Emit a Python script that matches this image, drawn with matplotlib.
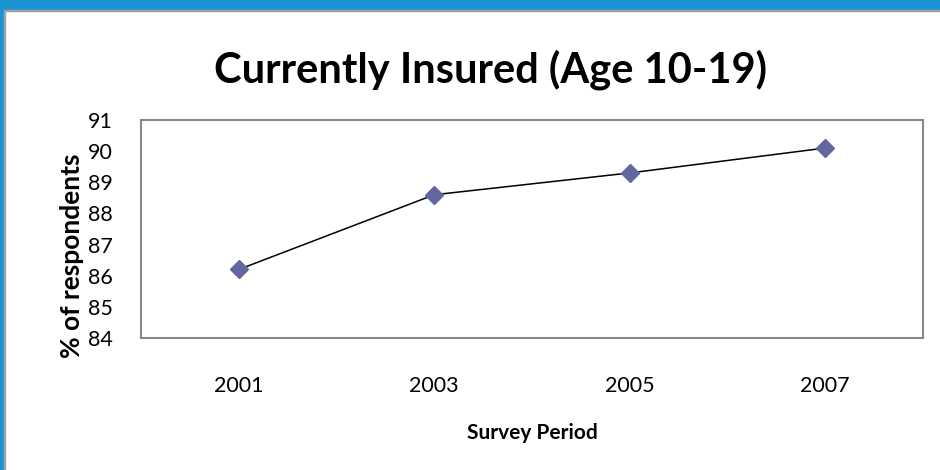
import matplotlib
matplotlib.use("Agg")
import matplotlib.pyplot as plt
from matplotlib.patches import Rectangle

# === DATA ===
periods = ["2001", "2003", "2005", "2007"]
insured = [86.2, 88.6, 89.3, 90.1]
y_ticks = [84, 85, 86, 87, 88, 89, 90, 91]

plt.rcParams['font.family'] = ['Lato', 'DejaVu Sans']

W, H = 940, 470
fig = plt.figure(figsize=(W / 100, H / 100), dpi=100)

# blue frame (top and left only) with a thin grey inner edge
fig.patches.append(Rectangle((0, 1 - 10 / H), 1, 10 / H, transform=fig.transFigure,
                             color='#1a93d3', zorder=0))
fig.patches.append(Rectangle((0, 1 - 11 / H), 1, 1 / H, transform=fig.transFigure,
                             color='#a0a0a0', zorder=0))
fig.patches.append(Rectangle((0, 0), 4 / W, 1, transform=fig.transFigure,
                             color='#1a93d3', zorder=0))
fig.patches.append(Rectangle((4 / W, 0), 1 / W, 1 - 10 / H, transform=fig.transFigure,
                             color='#a0a0a0', zorder=0))

# axes box: x 141..923, y 120..338 (pixels from top)
ax = fig.add_axes([141 / W, 1 - 338 / H, (923 - 141) / W, (338 - 120) / H])

x = list(range(len(periods)))
ax.plot(x, insured, color='black', lw=1.1, marker='D', ms=9.5,
        markerfacecolor='#63679f', markeredgecolor='#63679f', zorder=3)

ax.set_xlim(-0.5, len(periods) - 0.5)
ax.set_ylim(y_ticks[0], y_ticks[-1])
ax.set_xticks(x)
ax.set_xticklabels(periods)
ax.set_yticks(y_ticks)
ax.tick_params(axis='both', length=0, labelsize=15.5)
ax.tick_params(axis='x', pad=27)
ax.tick_params(axis='y', pad=20)

for s in ax.spines.values():
    s.set_color('#888888')
    s.set_linewidth(1.5)

fig.text(491 / W, 1 - 70 / H, "Currently Insured (Age 10-19)", ha='center', va='center',
         fontsize=30, fontweight='bold')
fig.text(72 / W, 1 - 256 / H, "% of respondents", ha='center', va='center',
         rotation=90, fontsize=19, fontweight='bold')
fig.text(532 / W, 1 - 433 / H, "Survey Period", ha='center', va='center',
         fontsize=15, fontweight='bold')

fig.savefig("out.png", dpi=100)
